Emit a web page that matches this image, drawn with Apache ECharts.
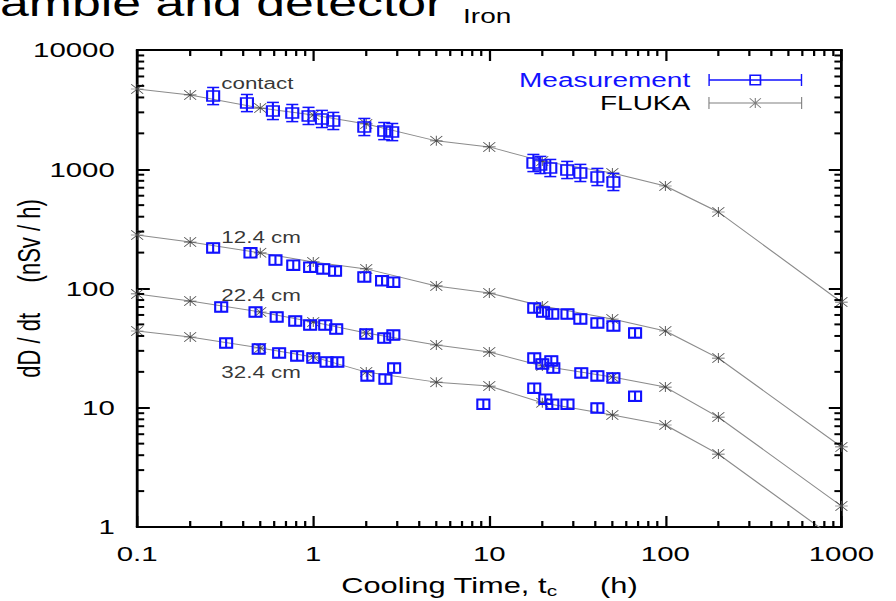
<!DOCTYPE html>
<html>
<head>
<meta charset="utf-8">
<script src="https://cdn.jsdelivr.net/npm/echarts@6/dist/echarts.min.js"></script>
<style>
html, body { margin: 0; padding: 0; background: #fff; overflow: hidden; }
/* the original figure is stretched sideways, so draw narrow and scale */
#main { width: 640px; height: 601px; transform: scaleX(1.4); transform-origin: 0 0; }
</style>
</head>
<body>
<div id="main"></div>
<script>
// FLUKA calculation (h, nSv/h)
var flukaTimes = [0.1, 0.2, 0.5, 1, 2, 5, 10, 20, 50, 100, 200, 1000];
var flukaContact = [4710, 4200, 3260, 2850, 2400, 1730, 1540, 1170, 930, 724, 438, 77];
var fluka124 = [281, 245, 199, 167, 146, 105, 91.6, 71.3, 55.5, 44, 26.1, 4.69];
var fluka224 = [90, 78.5, 63.5, 52.4, 42.3, 33.6, 29.3, 22.4, 18.1, 14.9, 8.36, 1.5];
var fluka324 = [44, 39.2, 31.7, 26.7, 19.9, 16.4, 15.2, 11, 8.7, 7.17, 4.09, 0.73];

// measurements
var measContactT = [0.27, 0.42, 0.59, 0.76, 0.94, 1.12, 1.30, 1.95, 2.53, 2.81, 17.8, 19.5, 22.2, 27.7, 32.9, 41.1, 50.7];
var measContactV = [4110, 3590, 3080, 2960, 2800, 2640, 2540, 2260, 2090, 2050, 1128, 1086, 1024, 986, 931, 861, 782];
var meas124T = [0.27, 0.44, 0.61, 0.77, 0.96, 1.14, 1.33, 1.95, 2.46, 2.85, 18.0, 20.2, 22.8, 27.8, 32.9, 41.1, 50.7, 67.3];
var meas124V = [219, 199, 173, 157, 151, 146, 140, 125, 116, 113, 68.6, 63.5, 61.1, 61.1, 55.5, 51.4, 48.5, 42.4];
var meas224T = [0.30, 0.47, 0.62, 0.79, 0.96, 1.17, 1.35, 2.0, 2.53, 2.85, 18.0, 20.0, 22.5, 23.1, 33.3, 41.1, 50.7, 67.3];
var meas224V = [70, 63.5, 57.7, 53.4, 49.4, 49.4, 45.7, 41.5, 38.4, 40.7, 26.1, 23.3, 24.7, 21.5, 19.6, 18.5, 17.8, 12.5];
var meas324T = [0.32, 0.49, 0.64, 0.81, 1.0, 1.19, 1.37, 2.03, 2.57, 2.88, 9.25, 18.0, 20.8, 22.8, 27.8, 41.1];
var meas324V = [34.9, 31.1, 28.8, 27.2, 26.1, 24.2, 24.2, 18.5, 17.4, 21.5, 10.7, 14.6, 11.8, 10.7, 10.7, 9.95];
// relative errors
var errContact = 0.18;
var errDepth = 0.09;

// curve labels
var noteNames = ['contact', '12.4 cm', '22.4 cm', '32.4 cm'];
var noteT = [0.3, 0.3, 0.3, 0.3];
var noteV = [5290, 270, 88, 19.9];

var xDecades = [0.1, 1, 10, 100];
var yDecades = [1, 10, 100, 1000];
var minorFactors = [2, 3, 4, 5, 6, 7, 8, 9];

var measColor = '#1212ff';
var flukaLine = '#8c8c8c';
var flukaMark = '#4a4a4a';
var font = 'Liberation Sans';

var starPath = 'path://M9.3 0h1.4v20h-1.4z M0 9.3h20v1.4H0z M1 0L20 19L19 20L0 1z M19 0L20 1L1 20L0 19z';
var measIcon = 'path://M0 1h1v12H0z M66 1h1v12h-1z M0 6.3h67v1.4H0z M29.2 1.5h8.6v11H29.2z M30.4 2.9v8.2h6.2V2.9z';
var flukaIcon = 'path://M0 1h0.8v12H0z M66.2 1h0.8v12h-0.8z M0 6.5h67v1H0z M33.1 2h0.8v10h-0.8z ' +
	'M29.2 2.6L29.8 2L37.8 11.4L37.2 12z M37.2 2L37.8 2.6L29.8 12L29.2 11.4z';

var pairs = function(ts, vs) {
	return ts.map(function(t, i) { return [t, vs[i]]; });
};

var errData = function(ts, vs, e) {
	return ts.map(function(t, i) { return [t, vs[i], vs[i] / (1 + e), vs[i] * (1 + e)]; });
};

var renderMeas = function(params, api) {
	var t = api.value(0);
	var p = api.coord([t, api.value(1)]);
	var lo = api.coord([t, api.value(2)]);
	var hi = api.coord([t, api.value(3)]);
	var hw = 4.3, hh = 5;
	var st = { stroke: measColor, lineWidth: 1.5, fill: null };
	return {
		type: 'group',
		children: [
			{ type: 'rect', shape: { x: p[0] - hw, y: p[1] - hh, width: 2 * hw, height: 2 * hh }, style: st },
			{ type: 'line', shape: { x1: p[0], y1: hi[1], x2: p[0], y2: lo[1] }, style: st },
			{ type: 'line', shape: { x1: p[0] - hw, y1: hi[1], x2: p[0] + hw, y2: hi[1] }, style: st },
			{ type: 'line', shape: { x1: p[0] - hw, y1: lo[1], x2: p[0] + hw, y2: lo[1] }, style: st }
		]
	};
};

// log minor ticks on all four sides
var renderMinor = function(params, api) {
	var cs = params.coordSys;
	var kids = [];
	var xs = { stroke: '#000', lineWidth: 1.6 };
	var ys = { stroke: '#000', lineWidth: 2 };
	xDecades.forEach(function(d) {
		minorFactors.forEach(function(f) {
			var x = api.coord([d * f, 1])[0];
			kids.push({ type: 'line', shape: { x1: x, y1: cs.y + cs.height, x2: x, y2: cs.y + cs.height - 6 }, style: xs });
			kids.push({ type: 'line', shape: { x1: x, y1: cs.y, x2: x, y2: cs.y + 6 }, style: xs });
		});
	});
	yDecades.forEach(function(d) {
		minorFactors.forEach(function(f) {
			var y = api.coord([1, d * f])[1];
			kids.push({ type: 'line', shape: { x1: cs.x, y1: y, x2: cs.x + 5, y2: y }, style: ys });
			kids.push({ type: 'line', shape: { x1: cs.x + cs.width, y1: y, x2: cs.x + cs.width - 5, y2: y }, style: ys });
		});
	});
	return { type: 'group', children: kids };
};

var flukaSeries = function(vals) {
	return {
		name: 'FLUKA',
		type: 'line',
		data: pairs(flukaTimes, vals),
		symbol: starPath,
		symbolSize: [9, 10],
		showAllSymbol: true,
		clip: true,
		itemStyle: { color: flukaMark },
		lineStyle: { color: flukaLine, width: 1 },
		z: 3
	};
};

var measSeries = function(ts, vs, e) {
	return {
		name: 'Measurement',
		type: 'custom',
		data: errData(ts, vs, e),
		encode: { x: 0, y: [1, 2, 3] },
		renderItem: renderMeas,
		itemStyle: { color: measColor },
		z: 4
	};
};

var xAxisBase = function(pos, labels) {
	return {
		type: 'log', logBase: 10, min: 0.1, max: 1000, position: pos,
		axisLine: { show: true, onZero: false, lineStyle: { color: '#000', width: 2.2 } },
		axisTick: { show: true, inside: true, length: 11, lineStyle: { color: '#000', width: 1.6 } },
		axisLabel: {
			show: labels, margin: 16, color: '#000', fontSize: 21, fontFamily: font,
			formatter: function(v) { return String(+v.toPrecision(3)); }
		},
		splitLine: { show: false },
		minorTick: { show: false }
	};
};

var yAxisBase = function(pos, labels) {
	return {
		type: 'log', logBase: 10, min: 1, max: 10000, position: pos,
		axisLine: { show: true, onZero: false, lineStyle: { color: '#000', width: 2 } },
		axisTick: { show: true, inside: true, length: 9, lineStyle: { color: '#000', width: 2 } },
		axisLabel: {
			show: labels, margin: 16, color: '#000', fontSize: 21, fontFamily: font,
			formatter: function(v) { return String(Math.round(v)); }
		},
		splitLine: { show: false },
		minorTick: { show: false }
	};
};

var xMain = xAxisBase('bottom', true);
xMain.name = 'Cooling Time, t{sub|c}     (h)';
xMain.nameLocation = 'middle';
xMain.nameGap = 46;
xMain.nameMoveOverlap = false;
xMain.nameTextStyle = {
	color: '#000', fontSize: 22, fontFamily: font,
	rich: { sub: { fontSize: 15, fontFamily: font, color: '#000', padding: [10, 0, 0, 0] } }
};

var yMain = yAxisBase('left', true);
yMain.name = 'dD / dt     (nSv / h)';
yMain.nameLocation = 'middle';
yMain.nameRotate = 90;
yMain.nameGap = 66;
yMain.nameMoveOverlap = false;
yMain.nameTextStyle = { color: '#000', fontSize: 22, fontFamily: font };

var chart = echarts.init(document.getElementById('main'), null, { renderer: 'svg' });

chart.setOption({
	animation: false,
	backgroundColor: '#fff',
	grid: { left: 98, right: 39, top: 50, bottom: 74, containLabel: false, outerBoundsMode: 'none' },
	graphic: [
		{ type: 'text', x: 0, y: 3, style: { text: 'amble and detector', fontSize: 37, fontFamily: font, fill: '#000', verticalAlign: 'middle' } },
		{ type: 'text', x: 348, y: 16, style: { text: 'Iron', fontSize: 20, fontFamily: font, fill: '#000', align: 'center', verticalAlign: 'middle' } }
	],
	legend: {
		orient: 'vertical',
		right: 62,
		top: 65,
		align: 'right',
		itemWidth: 67,
		itemHeight: 12,
		itemGap: 3,
		selectedMode: false,
		textStyle: { fontSize: 20, fontFamily: font, lineHeight: 20, padding: [0, 8, 0, 0] },
		data: [
			{ name: 'Measurement', icon: measIcon, itemStyle: { color: measColor }, textStyle: { color: measColor } },
			{ name: 'FLUKA', icon: flukaIcon, itemStyle: { color: '#808080' }, textStyle: { color: '#000' } }
		]
	},
	xAxis: [xMain, xAxisBase('top', false)],
	yAxis: [yMain, yAxisBase('right', false)],
	series: [
		{
			name: 'minor',
			type: 'custom',
			data: [[1, 1]],
			renderItem: renderMinor,
			silent: true,
			z: 10
		},
		flukaSeries(flukaContact),
		flukaSeries(fluka124),
		flukaSeries(fluka224),
		flukaSeries(fluka324),
		measSeries(measContactT, measContactV, errContact),
		measSeries(meas124T, meas124V, errDepth),
		measSeries(meas224T, meas224V, errDepth),
		measSeries(meas324T, meas324V, errDepth),
		{
			name: 'notes',
			type: 'scatter',
			data: noteNames.map(function(n, i) { return { name: n, value: [noteT[i], noteV[i]] }; }),
			symbolSize: 0.1,
			itemStyle: { color: 'rgba(0,0,0,0)' },
			silent: true,
			label: {
				show: true, position: 'right', distance: 0,
				formatter: '{b}', color: '#000', fontSize: 16, fontFamily: font
			},
			z: 5
		}
	]
});
</script>
</body>
</html>
